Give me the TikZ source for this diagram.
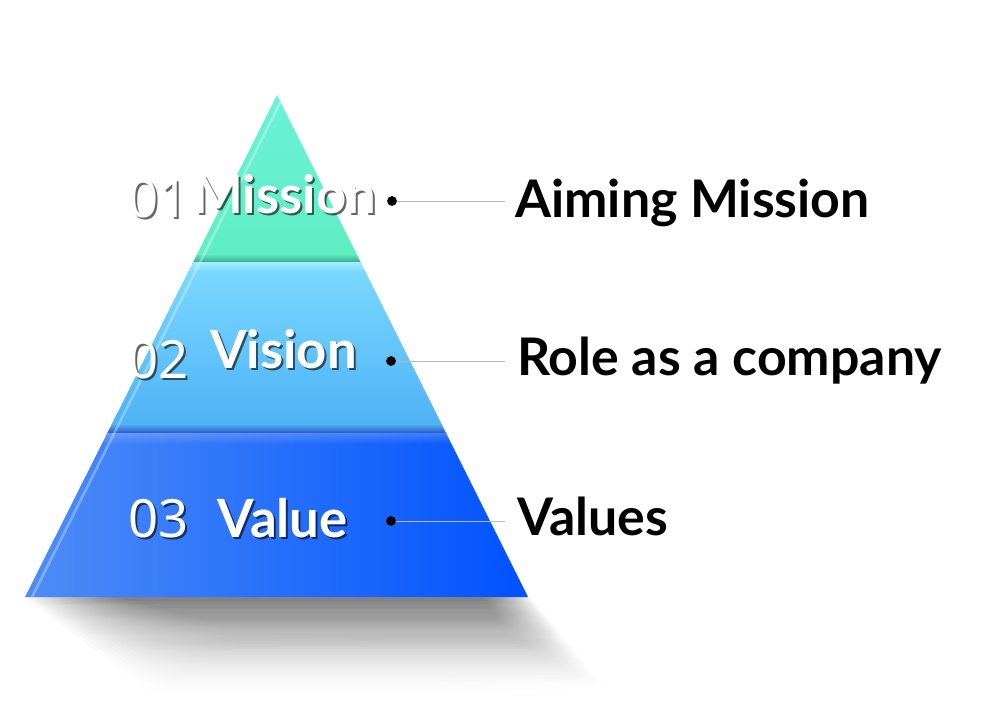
\documentclass[tikz,border=0pt]{standalone}
\usepackage{fontspec}
\setmainfont{Lato}
\newfontfamily\numfont{Noto Sans}
\usetikzlibrary{positioning, fadings}
\tikzfading[name=dropfade, top color=transparent!0, bottom color=transparent!100]
\definecolor{mintA}{HTML}{6BF1D8}
\definecolor{mintB}{HTML}{66FFF2}
\definecolor{mintC}{HTML}{5FEEC2}
\definecolor{mintD}{HTML}{2EA585}
\definecolor{skyA}{HTML}{A4EBFF}
\definecolor{skyB}{HTML}{79D8FF}
\definecolor{skyC}{HTML}{4EB2F4}
\definecolor{skyD}{HTML}{2A4CC2}
\definecolor{blueL}{HTML}{4E8DF6}
\definecolor{blueR}{HTML}{0052FF}

\begin{document}
\begin{tikzpicture}[x=0.02cm, y=-0.02cm,
  num/.style={anchor=base west, inner sep=0pt, text=white, font=\numfont\fontsize{30}{30}\selectfont},
  word/.style={anchor=base west, inner sep=0pt, text=white, font=\fontsize{30}{30}\selectfont\bfseries},
  lbl/.style={anchor=base west, inner sep=0pt, font=\fontsize{29.5}{29.5}\selectfont\bfseries},
  dot/.style={circle, fill=black, inner sep=0pt, minimum size=5.6pt},
  link/.style={draw=gray!55, line width=0.5pt},
]
  \useasboundingbox (0,0) rectangle (1000,704);

  % shadow under the pyramid
  \foreach \k in {0,...,23}
    \fill[black, opacity=.027, path fading=dropfade]
      ({25+\k*4},597) -- ({530-\k*2},597) -- ({605-\k*4},{688-\k*2}) -- ({165+\k*4},{704-\k*3}) -- cycle;

  % pyramid bands
  \begin{scope}
    \clip (277,95) -- (528,597) -- (25,597) -- cycle;
    \shade[top color=mintA, middle color=mintB, bottom color=mintC] (25,95) rectangle (528,255);
    \shade[top color=mintC, bottom color=mintD] (25,254) rectangle (528,263);
    \shade[top color=skyA, bottom color=skyB] (25,262) rectangle (528,272);
    \shade[top color=skyB, bottom color=skyC] (25,271) rectangle (528,425);
    \shade[top color=skyC, bottom color=skyD] (25,424) rectangle (528,434);
    \shade[left color=blueL, right color=blueR] (25,433) rectangle (528,598);
    \fill[white, opacity=.2, path fading=dropfade] (25,433) rectangle (528,444);
    \draw[white, opacity=.3, line width=1.5pt] (284,95) -- (32,597);
  \end{scope}

  % tier titles
  \foreach \i/\n/\ny/\w/\wx/\wy in {1/01/217/Mission/193/213, 2/02/378/Vision/210/368, 3/03/537/Value/217/537} {
    \node[num, text=black, opacity=.6] at (130,{\ny+2}) {\n};
    \node[word, text=black, opacity=.6] at ({\wx+2},{\wy+2}) {\w};
    \node[num] (num\i) at (128,\ny) {\n};
    \node[word] (tier\i) at (\wx,\wy) {\w};
  }

  % notes on the right
  \node[dot] (d1) at (392,201) {};
  \node[dot] (d2) at (391,361) {};
  \node[dot] (d3) at (391,521) {};
  \coordinate (e1) at (505,201);
  \coordinate (e2) at (505,361);
  \coordinate (e3) at (505,521);
  \node[lbl] (note1) at (515,217) {Aiming Mission};
  \node[lbl] (note2) at (517,375) {Role as a company};
  \node[lbl] (note3) at (517,535) {Values};
  \draw[link] (d1) -- (e1);
  \draw[link] (d2) -- (e2);
  \draw[link] (d3) -- (e3);
\end{tikzpicture}
\end{document}
